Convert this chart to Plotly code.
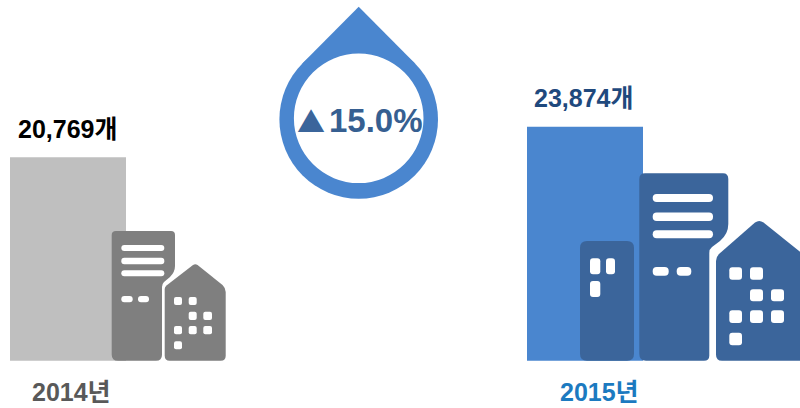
import plotly.graph_objects as go

W, H = 800, 408
categories = ["2014년", "2015년"]
values = [20769, 23874]
value_labels = ["20,769", "23,874"]
change_label = "15.0%"
bar_colors = ["#BFBFBF", "#4A86CF"]

GRAY = "#7F7F7F"
NAVY = "#3B659B"
DROP = "#4A86CF"
FONT = "Liberation Sans, Noto Sans CJK KR, sans-serif"


def X(x):
    return x / W


def Y(y):
    return 1 - y / H


def P(points):
    return " ".join(points)


def rpath(x0, y0, x1, y1, r):
    c = [
        f"M{X(x0 + r)},{Y(y0)}", f"L{X(x1 - r)},{Y(y0)}",
        f"Q{X(x1)},{Y(y0)} {X(x1)},{Y(y0 + r)}", f"L{X(x1)},{Y(y1 - r)}",
        f"Q{X(x1)},{Y(y1)} {X(x1 - r)},{Y(y1)}", f"L{X(x0 + r)},{Y(y1)}",
        f"Q{X(x0)},{Y(y1)} {X(x0)},{Y(y1 - r)}", f"L{X(x0)},{Y(y0 + r)}",
        f"Q{X(x0)},{Y(y0)} {X(x0 + r)},{Y(y0)}", "Z",
    ]
    return P(c)


def poly(cmds):
    out = []
    for c in cmds:
        k = c[0]
        nums = c[1:]
        if k == "Z":
            out.append("Z")
        elif k == "Q":
            out.append(f"Q{X(nums[0])},{Y(nums[1])} {X(nums[2])},{Y(nums[3])}")
        else:
            out.append(f"{k}{X(nums[0])},{Y(nums[1])}")
    return P(out)


shapes = []


def add_path(path, color):
    shapes.append(dict(type="path", xref="paper", yref="paper", path=path,
                       fillcolor=color, line=dict(width=0), layer="above"))


def add_circle(cx, cy, r, color):
    shapes.append(dict(type="circle", xref="paper", yref="paper",
                       x0=X(cx - r), x1=X(cx + r), y0=Y(cy + r), y1=Y(cy - r),
                       fillcolor=color, line=dict(width=0), layer="above"))


def windows(rects, r):
    for a in rects:
        add_path(rpath(*a, r), "white")


BASE = 360.8

# 2014 tower
add_path(poly([("M", 116, 231), ("L", 171, 231), ("Q", 175, 231, 175, 235), ("L", 175, 266),
               ("Q", 175, 272, 170, 277), ("L", 164, 282), ("Q", 162, 284, 162, 287),
               ("L", 162, BASE - 6), ("Q", 162, BASE, 156, BASE), ("L", 118, BASE),
               ("Q", 111.7, BASE, 111.7, BASE - 6), ("L", 111.7, 235), ("Q", 111.7, 231, 116, 231), ("Z",)]), GRAY)
windows([(121.3, 245, 164.3, 251), (121.3, 257.8, 164.3, 264.2), (121.3, 270.3, 164.3, 276.3),
         (121.3, 296, 132.7, 302.3), (138, 296, 149, 302.3)], 3)
# 2014 house
add_path(poly([("M", 193, 265), ("Q", 195.3, 263.5, 197.6, 265), ("L", 222.5, 285),
               ("Q", 225.7, 288, 225.7, 292), ("L", 225.7, BASE - 5), ("Q", 225.7, BASE, 220.7, BASE),
               ("L", 169.7, BASE), ("Q", 164.7, BASE, 164.7, BASE - 5), ("L", 164.7, 289),
               ("Q", 164.7, 287, 166.5, 285.5), ("Z",)]), GRAY)
cols14 = [(174, 182), (188.7, 196.7), (203.3, 212)]
rows14 = [(297, 305), (311.7, 320), (326, 334.3), (341.3, 349.3)]
pat = [(0, 0), (0, 1), (1, 1), (1, 2), (2, 0), (2, 1), (2, 2), (3, 0)]
windows([(cols14[c][0], rows14[r][0], cols14[c][1], rows14[r][1]) for r, c in pat], 2)

# 2015 small tower
add_path(rpath(580, 241, 634, BASE, 7), NAVY)
windows([(590, 258.3, 600.3, 274.3), (606, 258.3, 615, 274.3), (590, 281, 600.3, 297)], 3)
# 2015 tower
add_path(poly([("M", 645, 173.3), ("L", 723, 173.3), ("Q", 728.3, 173.3, 728.3, 179), ("L", 728.3, 224),
               ("Q", 728.3, 234, 720, 241), ("L", 712, 247), ("Q", 709.3, 249, 709.3, 253),
               ("L", 709.3, BASE - 5), ("Q", 709.3, BASE, 704, BASE), ("L", 646, BASE),
               ("Q", 639.3, BASE, 639.3, BASE - 7), ("L", 639.3, 179), ("Q", 639.3, 173.3, 645, 173.3), ("Z",)]), NAVY)
windows([(652.7, 194, 713, 202), (652.7, 212.5, 713, 221), (652.7, 230.3, 713, 238.3),
         (652.7, 267, 668.7, 275.7), (676.7, 267, 691.3, 275.7)], 4)
# 2015 house
add_path(poly([("M", 755, 222.5), ("Q", 759.3, 219.5, 763.5, 222.5), ("L", 800, 251.7), ("L", 800, BASE),
               ("L", 722, BASE), ("Q", 716, BASE, 716, BASE - 6), ("L", 716, 261),
               ("Q", 716, 257, 719, 254), ("Z",)]), NAVY)
cols15 = [(729.3, 742), (750, 763), (771, 784)]
rows15 = [(267.3, 279.7), (289.3, 301.3), (310.3, 323), (332.7, 345.3)]
windows([(cols15[c][0], rows15[r][0], cols15[c][1], rows15[r][1]) for r, c in pat], 3)

# drop
add_circle(358.7, 119.4, 79.3, DROP)
add_path(poly([("M", 358.7, 6.7), ("L", 415.1, 63.6), ("L", 302.3, 63.6), ("Z",)]), DROP)
add_circle(358.7, 118.3, 64.8, "white")

fig = go.Figure(go.Bar(
    x=categories, y=values, width=116 / 517, marker=dict(color=bar_colors, line=dict(width=0)),
    hoverinfo="skip",
))


def note(text, xc, yc, size, color, family=FONT):
    return dict(text=text, x=X(xc), y=Y(yc), xref="paper", yref="paper", xanchor="center", yanchor="middle",
                showarrow=False, font=dict(family=family, size=size, color=color))


annotations = [
    note(f"<b>{value_labels[0]}개</b>", 67.5, 128.5, 25, "#000000"),
    note(f"<b>{value_labels[1]}개</b>", 583.5, 98, 25, "#1F497D"),
    note(f"<b>{categories[0]}</b>", 71.7, 392, 25, "#595959"),
    note(f"<b>{categories[1]}</b>", 599, 392, 25, "#1C7AC0"),
    note("▲", 311.3, 120.5, 28, NAVY, "Noto Sans CJK KR"),
    note(f"<b>{change_label}</b>", 375.7, 120.5, 33, "#365F91"),
]

k = 234 / 23874  # pixels per unit
px_per_cat = 517
fig.update_layout(
    width=W, height=H, margin=dict(l=0, r=0, t=0, b=0), autosize=False,
    paper_bgcolor="white", plot_bgcolor="white", showlegend=False,
    xaxis=dict(visible=False, type="category", range=[-68 / px_per_cat, (W - 68) / px_per_cat]),
    yaxis=dict(visible=False, range=[-(H - BASE) / k, BASE / k]),
    shapes=shapes, annotations=annotations,
)
fig.write_html("out.html", config=dict(displayModeBar=False),
               post_script="document.body.style.margin='0';document.documentElement.style.overflow='hidden';")
